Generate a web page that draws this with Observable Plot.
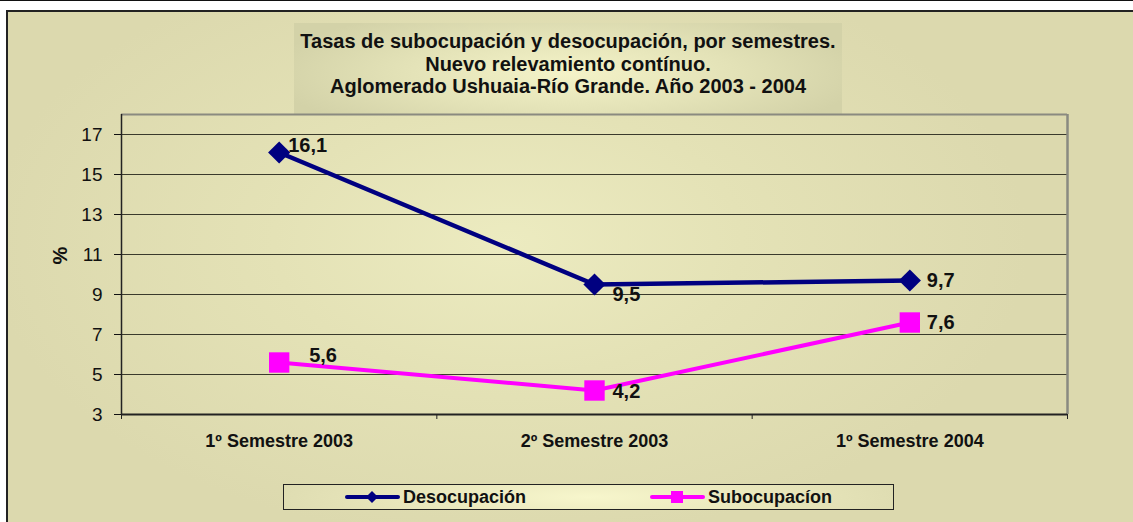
<!DOCTYPE html>
<html>
<head>
<meta charset="utf-8">
<script src="https://cdn.jsdelivr.net/npm/d3@7"></script>
<script src="https://cdn.jsdelivr.net/npm/@observablehq/plot@0.6"></script>
<style>
  html, body { margin: 0; padding: 0; background: #fff; }
  body { font-family: "Liberation Sans", Arial, sans-serif; }
  #wrap { position: relative; width: 1133px; height: 522px; overflow: hidden; background: #fff; border-top: 1px solid #111; box-sizing: border-box; }
  #panel { position: absolute; left: 6px; top: 9px; width: 1140px; height: 520px; box-sizing: border-box;
    border-left: 2px solid #222; border-top: 2px solid #222;
    background: radial-gradient(ellipse 520px 300px at 500px 230px, #ecebc0 0%, #e4e2b6 45%, #dcd9ae 100%); }
  #chart { position: absolute; left: 0; top: 0; }
  #title { position: absolute; left: 294px; top: 22px; width: 548px; height: 91px; box-sizing: border-box; padding-top: 7px;
    text-align: center; font-weight: bold; font-size: 20px; line-height: 22.5px; color: #111;
    background: radial-gradient(ellipse 300px 70px at 50% 55%, #f4f3c8 0%, #e3e2b7 55%, #d3d2a8 100%); }
  #legend { position: absolute; left: 283px; top: 483px; width: 611px; height: 26px; box-sizing: border-box;
    border: 1px solid #222;
    background: radial-gradient(ellipse 320px 40px at 50% 50%, #f7f6cc 0%, #e8e6bb 60%, #dedcb1 100%); }
  .item { position: absolute; top: 0; height: 24px; display: flex; align-items: center; font-weight: bold; font-size: 18px; color: #111; }
  .item svg { margin-right: 3px; }
</style>
</head>
<body>
<div id="wrap">
  <div id="panel"></div>
  <div id="title">Tasas de subocupación y desocupación, por semestres.<br>Nuevo relevamiento contínuo.<br>Aglomerado Ushuaia-Río Grande. Año 2003 - 2004</div>
  <div id="chart"></div>
  <div id="legend">
    <div class="item" style="left:61px"><svg width="55" height="16"><line x1="2" y1="8" x2="53" y2="8" stroke="#000080" stroke-width="4" stroke-linecap="round"/><path d="M27,2 L33,8 L27,14 L21,8 Z" fill="#000080"/></svg>Desocupación</div>
    <div class="item" style="left:366px"><svg width="55" height="16"><line x1="2" y1="8" x2="53" y2="8" stroke="#ff00ff" stroke-width="4" stroke-linecap="round"/><rect x="21" y="2" width="12" height="12" fill="#ff00ff"/></svg>Subocupacíon</div>
  </div>
</div>
<script>
const periods = ["1º Semestre 2003", "2º Semestre 2003", "1º Semestre 2004"];
const desocupacion = [16.1, 9.5, 9.7];
const subocupacion = [5.6, 4.2, 7.6];
const yTicks = [3, 5, 7, 9, 11, 13, 15, 17];

const desocRows = periods.map((p, i) => ({i, period: p, value: desocupacion[i]}));
const subocRows = periods.map((p, i) => ({i, period: p, value: subocupacion[i]}));

const NAVY = "#000080", MAGENTA = "#ff00ff";
const fmt = v => String(v).replace(".", ",");
const xPos = d => d.i + 0.5;

// label offsets (dx, dy) per point, styling only
const desocOff = [[9, -7], [18, 10], [17, 0]];
const subocOff = [[30, -7], [18, 1], [17, 0]];

const labelMarks = (rows, offs) => rows.map((r, k) =>
  Plot.text([r], {x: xPos, y: "value", text: d => fmt(d.value), dx: offs[k][0], dy: offs[k][1],
    textAnchor: "start", fontWeight: "bold", fontSize: 20, fill: "#111"}));

const chart = Plot.plot({
  width: 1133,
  height: 522,
  marginLeft: 121,
  marginRight: 66,
  marginTop: 113,
  marginBottom: 109,
  style: {background: "transparent", fontFamily: "'Liberation Sans', Arial, sans-serif", color: "#111", overflow: "visible"},
  x: {type: "linear", domain: [0, 3], axis: null},
  y: {type: "linear", domain: [3, 18], axis: null},
  marks: [
    Plot.gridY(yTicks.filter(t => t > 3), {stroke: "#3a3a2c", strokeOpacity: 1, strokeWidth: 1}),
    Plot.ruleY([18], {stroke: "#8a8a80", strokeWidth: 2}),
    Plot.ruleX([3], {stroke: "#8a8a80", strokeWidth: 2.5}),
    Plot.ruleX([0], {stroke: "#222", strokeWidth: 1.5}),
    Plot.ruleY([3], {stroke: "#222", strokeWidth: 2}),
    Plot.axisY({ticks: yTicks, tickSize: 7, tickPadding: 12, fontSize: 19, color: "#111", label: null}),
    Plot.axisX({ticks: [0, 1, 2, 3], tickSize: 5, tickFormat: () => "", color: "#222", label: null}),
    Plot.axisX({ticks: [0.5, 1.5, 2.5], tickSize: 0, tickPadding: 20, tickFormat: v => periods[Math.floor(v)],
      fontSize: 18, fontWeight: "bold", color: "#111", label: null}),
    Plot.text(["%"], {frameAnchor: "left", dx: -61, rotate: -90, fontWeight: "bold", fontSize: 20, fill: "#111"}),
    Plot.line(desocRows, {x: xPos, y: "value", stroke: NAVY, strokeWidth: 4.5}),
    Plot.dot(desocRows, {x: xPos, y: "value", symbol: "diamond2", r: 10, fill: NAVY, stroke: "none"}),
    Plot.line(subocRows, {x: xPos, y: "value", stroke: MAGENTA, strokeWidth: 4}),
    Plot.dot(subocRows, {x: xPos, y: "value", symbol: "square", r: 11.5, fill: MAGENTA, stroke: "none"}),
    ...labelMarks(desocRows, desocOff),
    ...labelMarks(subocRows, subocOff)
  ]
});
document.getElementById("chart").appendChild(chart);
</script>
</body>
</html>
